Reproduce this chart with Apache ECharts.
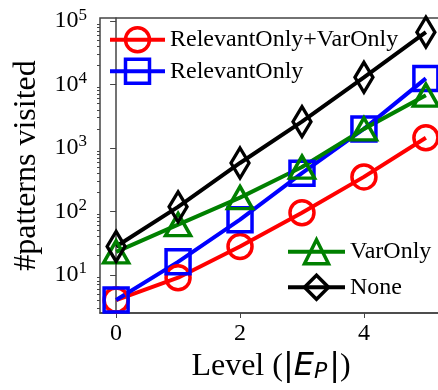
<!DOCTYPE html>
<html><head><meta charset="utf-8">
<script src="https://cdn.jsdelivr.net/npm/echarts@6/dist/echarts.min.js"></script>
<style>html,body{margin:0;padding:0;background:#fff}#c{width:438px;height:390px}</style>
</head><body><div id="c"></div>
<script>
const levels = [0, 1, 2, 3, 4, 5];
const relevantVarOnly = [4, 9, 28, 95, 350, 1450];
const relevantOnly = [4, 16, 74, 400, 2000, 12500];
const varOnly = [23, 62, 165, 500, 2000, 6800];
const noneVals = [28, 118, 580, 2600, 13000, 67000];
const xTicks = [0, 2, 4];
const yMajor = [10, 100, 1000, 10000, 100000];
const yMinor = [];
[1, 10, 100, 1000, 10000].forEach(d => { for (let k = 2; k <= 9; k++) { const v = k * d; if (v >= 2.5) yMinor.push(v); } });

const serif = 'Liberation Serif';
const pairs = arr => levels.map((x, i) => [x, arr[i]]);
function mk(name, arr, color, symbol, size, bw) {
  return {
    name, type: 'line', data: pairs(arr), symbol, symbolSize: size,
    lineStyle: { color, width: 4 },
    itemStyle: { color: 'rgba(255,255,255,0)', borderColor: color, borderWidth: bw },
    emphasis: { disabled: true }, animation: false, clip: false
  };
}
const legendCommon = {
  orient: 'vertical', padding: 0, itemHeight: 30,
  lineStyle: { width: 4 }, itemStyle: { borderWidth: 3.5 },
  textStyle: { fontFamily: serif, fontSize: 24, color: '#000' }
};
const chart = echarts.init(document.getElementById('c'));
chart.setOption({
  animation: false,
  grid: { left: 100, top: 18, width: 342, bottom: 77, show: true, borderColor: '#444', borderWidth: 1.5, outerBoundsMode: 'none' },
  xAxis: {
    type: 'value', min: -0.26, max: 5.26,
    name: '{n|Level (}{m||}{i|E}{sub|P}{m||}{n|)}', nameLocation: 'middle', nameGap: 38,
    nameTextStyle: {
      rich: {
        n: { fontFamily: serif, fontSize: 32, color: '#000' },
        m: { fontFamily: 'DejaVu Sans', fontSize: 32, color: '#000' },
        i: { fontFamily: 'DejaVu Sans', fontStyle: 'italic', fontSize: 32, color: '#000' },
        sub: { fontFamily: 'DejaVu Sans', fontStyle: 'italic', fontSize: 22, color: '#000', verticalAlign: 'bottom', padding: [8, 2, 0, 0] }
      }
    },
    axisLine: { lineStyle: { color: '#444', width: 1.5 } },
    axisTick: { customValues: xTicks, length: 5, inside: false, lineStyle: { color: '#444' } },
    axisLabel: { customValues: xTicks, fontFamily: serif, fontSize: 24, color: '#000', margin: 9 },
    splitLine: { show: false }
  },
  yAxis: [{
    type: 'log', min: 2.5, max: 112000,
    name: '#patterns visited', nameLocation: 'middle', nameGap: 57,
    nameTextStyle: { fontFamily: serif, fontSize: 32, color: '#000' },
    axisLine: { show: true, lineStyle: { color: '#444', width: 1.5 } },
    axisTick: { customValues: yMajor, length: 6, lineStyle: { color: '#444' } },
    axisLabel: {
      customValues: yMajor, margin: 13,
      formatter: v => '{b|10}{s|' + Math.round(Math.log10(v)) + '}',
      rich: {
        b: { fontFamily: serif, fontSize: 24, color: '#000' },
        s: { fontFamily: serif, fontSize: 17, color: '#000', verticalAlign: 'top', padding: [0, 0, 12, 0] }
      }
    },
    splitLine: { show: false }
  }, {
    type: 'log', min: 2.5, max: 112000, position: 'left',
    axisLine: { show: false },
    axisTick: { customValues: yMinor, length: 3, lineStyle: { color: '#444' } },
    axisLabel: { show: false }, splitLine: { show: false }
  }],
  legend: [Object.assign({
    data: ['RelevantOnly+VarOnly', 'RelevantOnly'], left: 108, top: 26,
    itemWidth: 55, itemGap: 4
  }, legendCommon), Object.assign({
    data: ['VarOnly', 'None'], left: 286, top: 238,
    itemWidth: 57, itemGap: 8
  }, legendCommon)],
  series: [
    mk('RelevantOnly+VarOnly', relevantVarOnly, '#ff0000', 'circle', 24, 3.5),
    mk('RelevantOnly', relevantOnly, '#0000ff', 'rect', 24, 3.5),
    mk('VarOnly', varOnly, '#008000', 'triangle', [25, 22], 3.5),
    mk('None', noneVals, '#000000', 'diamond', [18, 30], 3.5)
  ]
});
</script></body></html>
